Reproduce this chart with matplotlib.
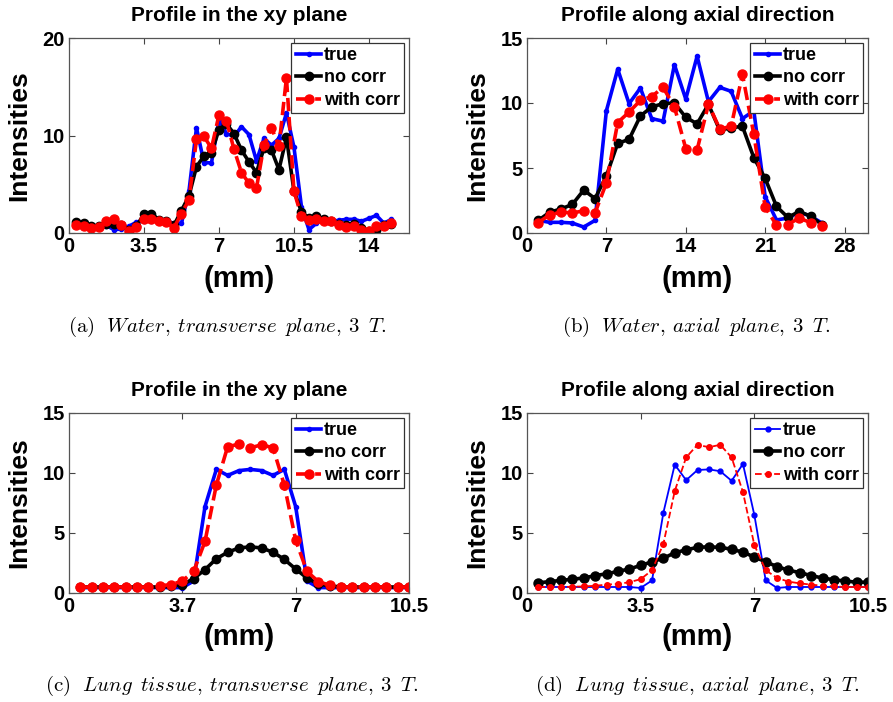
import numpy as np
import matplotlib
matplotlib.use("Agg")
import matplotlib.pyplot as plt

plt.rcParams['font.family'] = ['Liberation Sans', 'DejaVu Sans']
plt.rcParams['font.weight'] = 'bold'
plt.rcParams['mathtext.fontset'] = 'cm'

# ---- data ----
# (a) water, transverse plane: 43 samples, 0.35 mm apart
xa = 0.35 * np.arange(1, 44)
a_true = [1.1, 1.1, 0.75, 0.7, 0.75, 0.35, 0.4, 0.7, 1.1, 1.25, 1.2, 1.25, 1.2, 1.0, 1.0,
          4.3, 10.8, 7.2, 7.2, 11.6, 10.2, 9.9, 10.9, 10.1, 7.4, 9.7, 9.0, 9.7, 12.3, 8.8,
          2.7, 0.35, 1.0, 1.4, 1.2, 1.3, 1.4, 1.4, 1.2, 1.5, 1.8, 1.0, 1.4]
a_nocorr = [1.1, 1.0, 0.7, 0.7, 0.9, 0.9, 0.8, 0.35, 0.7, 1.95, 2.0, 1.35, 1.25, 0.8, 2.3,
            3.8, 6.8, 7.9, 8.2, 10.6, 11.2, 10.2, 8.5, 7.3, 6.2, 8.7, 8.5, 6.5, 9.8, 4.3,
            2.2, 1.5, 1.7, 1.4, 1.2, 0.95, 0.85, 0.95, 0.5, 0.2, 0.3, 0.85, 0.95]
a_withcorr = [0.85, 0.75, 0.5, 0.6, 1.25, 1.45, 0.8, 0.2, 0.6, 1.45, 1.45, 1.2, 1.1, 0.55, 2.0,
              3.4, 9.6, 9.9, 8.7, 12.1, 11.5, 8.6, 6.2, 5.1, 4.6, 9.0, 10.8, 8.9, 15.9, 4.3,
              1.7, 1.3, 1.4, 1.2, 1.2, 0.85, 0.6, 0.75, 0.3, 0.2, 0.7, 0.7, 1.0]

# (b) water, axial plane: 1 mm steps
xb = np.arange(1, 27)
b_true = [0.97, 0.82, 0.82, 0.77, 0.46, 0.97, 9.4, 12.6, 9.95, 11.15, 8.8, 8.6, 12.95,
          10.3, 13.6, 10.1, 11.2, 10.9, 8.8, 9.4, 2.8, 1.0, 1.15, 1.6, 1.3, 0.77]
b_nocorr = [0.97, 1.6, 1.85, 2.2, 3.3, 2.65, 4.4, 6.9, 7.2, 9.0, 9.7, 9.95, 10.0,
            8.9, 8.4, 9.9, 7.9, 8.1, 8.2, 5.8, 4.2, 2.05, 1.2, 1.65, 1.3, 0.65]
b_withcorr = [0.8, 1.4, 1.6, 1.55, 1.7, 1.55, 3.85, 8.5, 9.3, 10.2, 10.5, 11.2, 9.7,
              6.5, 6.4, 9.9, 8.0, 8.2, 12.2, 7.6, 2.0, 0.6, 0.65, 1.15, 0.8, 0.56]

# (c) lung tissue, transverse plane: 30 samples, 0.35 mm apart
xc = 0.35 * np.arange(1, 31)
c_true = [0.45, 0.45, 0.45, 0.45, 0.45, 0.45, 0.45, 0.45, 0.45, 0.45, 1.0, 7.2, 10.3, 9.8, 10.2,
          10.3, 10.2, 9.8, 10.3, 7.2, 1.0, 0.45, 0.45, 0.45, 0.45, 0.45, 0.45, 0.45, 0.45, 0.45]
c_nocorr = [0.5, 0.5, 0.5, 0.5, 0.5, 0.5, 0.5, 0.5, 0.55, 0.7, 1.2, 1.95, 2.85, 3.4, 3.75,
            3.85, 3.75, 3.4, 2.8, 2.0, 1.25, 0.75, 0.6, 0.5, 0.5, 0.5, 0.5, 0.5, 0.5, 0.5]
c_withcorr = [0.5, 0.5, 0.5, 0.5, 0.5, 0.5, 0.5, 0.6, 0.7, 1.0, 1.8, 4.3, 9.0, 12.2, 12.4,
              12.1, 12.35, 12.1, 9.0, 4.4, 1.8, 0.95, 0.65, 0.5, 0.5, 0.5, 0.5, 0.5, 0.5, 0.5]

# (d) lung tissue, axial plane
xd = 0.35 * np.arange(1, 31)
d_true = [0.5, 0.5, 0.5, 0.5, 0.5, 0.5, 0.5, 0.5, 0.5, 0.42, 1.05, 6.7, 10.7, 9.4, 10.25,
          10.3, 10.15, 9.35, 10.75, 6.5, 1.05, 0.42, 0.5, 0.5, 0.5, 0.5, 0.5, 0.5, 0.5, 0.5]
d_nocorr = [0.85, 0.95, 1.05, 1.15, 1.25, 1.45, 1.6, 1.8, 2.0, 2.3, 2.6, 2.9, 3.35, 3.6, 3.8,
            3.85, 3.8, 3.65, 3.4, 3.0, 2.6, 2.2, 1.9, 1.7, 1.45, 1.25, 1.1, 1.0, 0.9, 0.9]
d_withcorr = [0.5, 0.5, 0.5, 0.52, 0.55, 0.6, 0.7, 0.75, 0.9, 1.15, 1.9, 4.1, 8.5, 11.3, 12.35,
              12.15, 12.35, 11.3, 8.4, 4.0, 1.9, 1.25, 0.95, 0.8, 0.7, 0.6, 0.55, 0.5, 0.5, 0.5]

labels = ['true', 'no corr', 'with corr']
titles = ['Profile in the xy plane', 'Profile along axial direction']
captions = [r'$\mathrm{(a)}\ \ \mathit{Water,\:transverse\ \,plane,\:3\ \,T.}$',
            r'$\mathrm{(b)}\ \ \mathit{Water,\:axial\ \,plane,\:3\ \,T.}$',
            r'$\mathrm{(c)}\ \ \mathit{Lung\ \,tissue,\:transverse\ \,plane,\:3\ \,T.}$',
            r'$\mathrm{(d)}\ \ \mathit{Lung\ \,tissue,\:axial\ \,plane,\:3\ \,T.}$']

W, H = 893, 702
fig = plt.figure(figsize=(W / 100, H / 100), dpi=100)


def px_axes(left, top, right, bottom):
    return fig.add_axes([left / W, 1 - bottom / H, (right - left) / W, (bottom - top) / H])


def profile(ax, x, series, title, xlim, xticks, xticklabels, ylim, yticks, thin=False):
    t, n, w = series
    if thin:
        ax.plot(x, t, '.-', color='blue', lw=1.3, ms=7, label=labels[0])
        ax.plot(x, n, '.-', color='black', lw=2.6, ms=13, label=labels[1])
        ax.plot(x, w, '.--', color='red', lw=1.3, ms=8, label=labels[2])
    else:
        ax.plot(x, t, '.-', color='blue', lw=2.6, ms=6, label=labels[0])
        ax.plot(x, n, '.-', color='black', lw=2.6, ms=12, label=labels[1])
        ax.plot(x, w, '.--', color='red', lw=2.6, ms=13, label=labels[2])
    ax.set_xlim(*xlim)
    ax.set_ylim(*ylim)
    ax.set_xticks(xticks)
    ax.set_xticklabels(xticklabels)
    ax.set_yticks(yticks)
    ax.tick_params(direction='in', top=True, right=True, labelsize=14.5, length=4,
                   color='#444444', pad=3)
    for s in ax.spines.values():
        s.set_color('#555555')
        s.set_linewidth(0.9)
    ax.set_title(title, fontsize=15, fontweight='bold', pad=12)
    ax.set_xlabel('(mm)', fontsize=21, fontweight='bold')
    ax.set_ylabel('Intensities', fontsize=19, fontweight='bold')
    ax.xaxis.set_label_coords(0.5, -0.165)
    ax.yaxis.set_label_coords(-0.11, 0.5)
    leg = ax.legend(loc='upper right', fancybox=False, edgecolor='#333333',
                    prop={'weight': 'bold', 'size': 13}, handlelength=1.4,
                    handletextpad=0.15, borderpad=0.25, labelspacing=0.3,
                    borderaxespad=0.25, framealpha=1)
    leg.get_frame().set_linewidth(0.9)


ax = px_axes(69, 38, 409, 233)
profile(ax, xa, (a_true, a_nocorr, a_withcorr), titles[0], (0, 15.87),
        [0, 3.5, 7, 10.5, 14], ['0', '3.5', '7', '10.5', '14'], (0, 20), [0, 10, 20])

ax = px_axes(527, 38, 868, 233)
profile(ax, xb, (b_true, b_nocorr, b_withcorr), titles[1], (0, 30.07),
        [0, 7, 14, 21, 28], ['0', '7', '14', '21', '28'], (0, 15), [0, 5, 10, 15])

ax = px_axes(69, 413, 409, 593)
profile(ax, xc, (c_true, c_nocorr, c_withcorr), titles[0], (0, 10.5),
        [0, 3.5, 7, 10.5], ['0', '3.7', '7', '10.5'], (0, 15), [0, 5, 10, 15])

ax = px_axes(527, 413, 868, 593)
profile(ax, xd, (d_true, d_nocorr, d_withcorr), titles[1], (0, 10.5),
        [0, 3.5, 7, 10.5], ['0', '3.5', '7', '10.5'], (0, 15), [0, 5, 10, 15], thin=True)

# captions under each panel
cap_pos = [(227, 327), (696, 327), (232, 686), (697, 686)]
for (cx, cy), cap in zip(cap_pos, captions):
    fig.text(cx / W, 1 - cy / H, cap, ha='center', va='center', fontsize=15)

fig.savefig('out.png', dpi=100)
